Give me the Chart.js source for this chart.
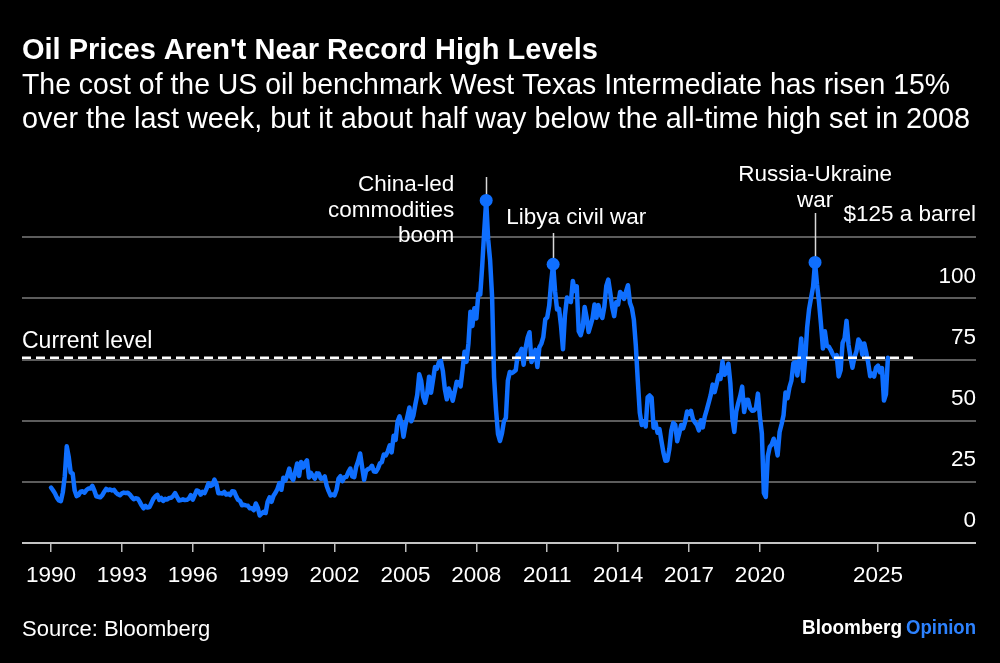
<!DOCTYPE html>
<html>
<head>
<meta charset="utf-8">
<script src="https://cdn.jsdelivr.net/npm/chart.js@4.4.1/dist/chart.umd.min.js"></script>
<style>
  html, body { margin: 0; padding: 0; background: #000; }
  .chart-wrap { position: relative; width: 1000px; height: 663px; }
</style>
</head>
<body>
<div class="chart-wrap">
  <canvas id="oilChart"></canvas>
</div>
<script>
// WTI monthly closes, USD a barrel, Jan 1990 onwards
const firstYear = 1990
const wti1990s = [
  22.68, 21.54, 20.28, 18.54, 17.40, 17.07, 20.69, 27.32, 39.51, 35.23, 28.85, 28.44,
  21.54, 19.16, 19.63, 20.96, 21.13, 20.56, 21.68, 22.26, 22.23, 23.35, 21.48, 19.12,
  18.90, 18.68, 19.44, 20.85, 22.11, 21.60, 21.87, 21.48, 21.71, 20.62, 19.89, 19.50,
  20.26, 20.60, 20.44, 20.53, 19.85, 18.75, 17.89, 18.29, 18.15, 16.92, 15.39, 14.17,
  15.19, 14.48, 14.66, 16.38, 18.08, 19.06, 19.66, 17.61, 18.39, 17.19, 18.05, 17.76,
  18.39, 18.49, 19.17, 20.38, 18.89, 17.40, 17.56, 17.84, 17.54, 17.64, 18.18, 19.55,
  17.74, 19.54, 21.47, 21.20, 19.76, 20.92, 20.42, 22.25, 24.38, 23.35, 23.75, 25.92,
  24.15, 20.30, 20.41, 20.21, 20.88, 19.80, 20.14, 19.61, 21.18, 21.08, 19.15, 17.64,
  17.21, 15.44, 15.61, 15.39, 15.20, 14.18, 14.21, 13.39, 16.14, 14.42, 11.22, 12.05,
  12.75, 12.27, 16.76, 18.66, 16.84, 19.29, 20.53, 22.10, 24.51, 21.75, 26.68, 25.60
]
const wti2000s = [
  27.64, 30.43, 26.90, 25.74, 29.01, 32.50, 27.43, 33.12, 30.84, 32.70, 33.82, 26.80,
  28.66, 27.39, 26.29, 28.46, 28.37, 26.25, 26.35, 27.20, 23.43, 21.18, 19.44, 19.84,
  19.48, 21.74, 26.31, 27.29, 25.31, 26.86, 27.02, 28.98, 30.45, 27.22, 26.89, 31.20,
  33.51, 36.60, 31.04, 25.80, 29.56, 30.19, 30.54, 31.57, 29.20, 29.11, 30.41, 32.52,
  33.05, 36.16, 35.76, 37.38, 39.88, 37.05, 43.80, 42.12, 49.64, 51.76, 49.13, 43.45,
  48.20, 51.75, 55.40, 49.72, 51.97, 56.50, 60.57, 68.94, 66.24, 59.76, 57.32, 61.04,
  67.92, 61.41, 66.63, 71.88, 71.29, 73.93, 74.40, 70.26, 62.91, 58.73, 63.13, 61.05,
  58.14, 61.79, 65.87, 65.71, 64.01, 70.68, 78.21, 74.04, 81.66, 94.53, 88.71, 95.98,
  91.75, 101.84, 101.58, 113.46, 127.35, 140.00, 124.08, 115.46, 100.64, 67.81, 54.43, 44.60,
  41.68, 44.76, 49.66, 51.12, 66.31, 69.89, 69.45, 69.96, 70.61, 77.00, 77.28, 79.36
]
const wti2010s = [
  72.89, 79.66, 83.76, 86.15, 73.97, 75.63, 78.95, 71.92, 79.97, 81.43, 84.11, 91.38,
  92.19, 96.97, 106.72, 113.93, 102.70, 95.42, 95.70, 88.81, 79.20, 93.19, 100.36, 98.83,
  98.48, 107.07, 103.02, 104.87, 86.53, 84.96, 88.06, 96.47, 92.19, 86.24, 88.91, 91.82,
  97.49, 92.05, 97.23, 93.46, 91.97, 96.56, 105.03, 107.65, 102.33, 96.38, 92.72, 98.42,
  97.49, 102.59, 101.58, 99.74, 102.71, 105.37, 98.17, 95.96, 91.16, 80.54, 66.15, 53.27,
  48.24, 49.76, 47.60, 59.63, 60.30, 59.47, 47.12, 49.20, 45.09, 46.59, 41.65, 37.04,
  33.62, 33.75, 38.34, 45.92, 49.10, 48.33, 41.60, 44.70, 48.24, 46.86, 49.44, 53.72,
  52.81, 54.01, 50.60, 49.33, 48.32, 46.04, 50.17, 47.23, 51.67, 54.38, 57.40, 60.42,
  64.73, 61.64, 64.94, 68.57, 67.04, 74.15, 68.76, 69.80, 73.25, 65.31, 50.93, 45.41,
  53.79, 57.22, 60.14, 63.91, 53.50, 58.47, 58.58, 55.10, 54.07, 54.18, 55.17, 61.06
]
const wti2020s = [
  51.56, 44.76, 20.48, 18.84, 35.49, 39.27, 40.27, 42.61, 40.22, 35.79, 45.34, 48.52,
  52.20, 61.50, 59.16, 63.58, 66.32, 73.47, 73.95, 68.50, 75.03, 83.57, 66.18, 75.21,
  88.15, 95.72, 100.28, 104.69, 114.67, 105.76, 98.62, 89.55, 79.49, 86.53, 80.55, 80.26,
  78.87, 77.05, 75.67, 76.78, 68.09, 70.64, 81.80, 83.63, 90.79, 81.02, 75.96, 71.65,
  75.85, 78.26, 83.17, 81.93, 76.99, 81.54, 77.91, 73.55, 68.17, 69.26, 68.00, 71.72,
  72.53, 69.76, 71.48, 58.21, 60.79, 75.70
]
const currentLevel = 75.7

const yearTicks = [1990, 1993, 1996, 1999, 2002, 2005, 2008, 2011, 2014, 2017, 2020, 2025]
const priceTicks = [0, 25, 50, 75, 100, 125]
const priceTickLabels = ['0', '25', '50', '75', '100', '$125 a barrel']

const eventMonths = ['2008-06', '2011-04', '2022-05']
const eventLabels = [
  ['China-led', 'commodities', 'boom'],
  ['Libya civil war'],
  ['Russia-Ukraine', 'war']
]

const title = "Oil Prices Aren't Near Record High Levels"
const subtitle = [
  'The cost of the US oil benchmark West Texas Intermediate has risen 15%',
  'over the last week, but it about half way below the all-time high set in 2008'
]
const source = 'Source: Bloomberg'


const FONT = "'Liberation Sans', Arial, Helvetica, sans-serif"
const BLUE = '#0f6fff'
const X_MIN = 1988.773
const X_MAX = 2029.145
const DASH_END = 2026.6

const prices = [...wti1990s, ...wti2000s, ...wti2010s, ...wti2020s]
const pricePoints = prices.map((p, i) => ({ x: firstYear + i / 12, y: p }))
const eventIndex = eventMonths.map(m => {
  const [yr, mo] = m.split('-').map(Number)
  return (yr - firstYear) * 12 + (mo - 1)
})

function txt(ctx, s, x, y, font, align, color, maxW) {
  ctx.font = font
  ctx.textAlign = align || 'left'
  ctx.fillStyle = color || '#fff'
  if (maxW) ctx.fillText(s, x, y, maxW)
  else ctx.fillText(s, x, y)
}

const overlay = {
  id: 'overlay',
  beforeDatasetsDraw(chart) {
    const { ctx, scales: { x, y } } = chart
    const tops = [177, 233, 213]
    ctx.save()
    ctx.strokeStyle = '#d8d8d8'
    ctx.lineWidth = 1.5
    eventIndex.forEach((idx, k) => {
      const p = pricePoints[idx]
      const px = Math.round(x.getPixelForValue(p.x)) + 0.5
      ctx.beginPath()
      ctx.moveTo(px, tops[k])
      ctx.lineTo(px, y.getPixelForValue(p.y))
      ctx.stroke()
    })
    ctx.restore()
  },
  afterDraw(chart) {
    const { ctx, chartArea: area, scales: { x, y } } = chart
    ctx.save()
    ctx.textBaseline = 'alphabetic'

    txt(ctx, title, 22, 59, 'bold 29px ' + FONT, 'left', '#fff', 582)
    txt(ctx, subtitle[0], 22, 94, '29px ' + FONT, 'left', '#fff', 928)
    txt(ctx, subtitle[1], 22, 128, '29px ' + FONT, 'left', '#fff', 948)

    // y labels sit above their gridlines
    ctx.textBaseline = 'middle'
    priceTicks.forEach((v, i) => {
      txt(ctx, priceTickLabels[i], area.right, y.getPixelForValue(v) - 22, '22.5px ' + FONT, 'right')
    })

    txt(ctx, 'Current level', 22, y.getPixelForValue(currentLevel) - 16, '23px ' + FONT, 'left')

    // event notes
    const lh = 25.5
    eventIndex.forEach((idx, k) => {
      const px = x.getPixelForValue(pricePoints[idx].x)
      const lines = eventLabels[k]
      lines.forEach((s, j) => {
        if (k === 0) txt(ctx, s, px - 32, 185 + j * lh, '22.5px ' + FONT, 'right')
        else if (k === 1) txt(ctx, s, px - 47, 218 + j * lh, '22.5px ' + FONT, 'left')
        else txt(ctx, s, px, 175 + j * lh, '22.5px ' + FONT, 'center')
      })
    })

    txt(ctx, source, 22, 630, '22px ' + FONT, 'left')
    txt(ctx, 'Opinion', 976, 628, 'bold 21px ' + FONT, 'right', '#2d82ff', 70)
    txt(ctx, 'Bloomberg', 902, 628, 'bold 21px ' + FONT, 'right', '#fff', 100)
    ctx.restore()
  }
}

const ctx = document.getElementById('oilChart').getContext('2d')

new Chart(ctx, {
  type: 'line',
  data: {
    datasets: [
      {
        data: [{ x: X_MIN, y: currentLevel }, { x: DASH_END, y: currentLevel }],
        borderColor: '#ffffff',
        borderWidth: 2.5,
        borderDash: [9, 5],
        pointRadius: 0,
        order: 0
      },
      {
        data: pricePoints,
        borderColor: BLUE,
        backgroundColor: BLUE,
        borderWidth: 4.5,
        borderJoinStyle: 'round',
        borderCapStyle: 'round',
        tension: 0,
        clip: false,
        pointRadius: c => eventIndex.includes(c.dataIndex) ? 6.5 : 0,
        pointBackgroundColor: BLUE,
        pointBorderWidth: 0,
        order: 1
      }
    ]
  },
  options: {
    responsive: true,
    maintainAspectRatio: false,
    animation: false,
    events: [],
    layout: { padding: { left: 22, right: 24, top: 176, bottom: 0 } },
    plugins: {
      legend: { display: false },
      tooltip: { enabled: false }
    },
    scales: {
      x: {
        type: 'linear',
        min: X_MIN,
        max: X_MAX,
        afterBuildTicks: s => { s.ticks = yearTicks.map(v => ({ value: v })) },
        afterFit: s => { s.height = 120 },
        border: { display: false },
        grid: {
          drawOnChartArea: false,
          drawTicks: true,
          tickLength: 9,
          color: '#bdbdbd',
          lineWidth: 1.5
        },
        ticks: {
          autoSkip: false,
          maxRotation: 0,
          padding: 10,
          color: '#ffffff',
          font: { family: FONT, size: 22.5 },
          callback: v => String(v)
        }
      },
      y: {
        position: 'right',
        min: 0,
        max: 150,
        afterBuildTicks: s => { s.ticks = priceTicks.map(v => ({ value: v })) },
        afterFit: s => { s.width = 0 },
        border: { display: false },
        grid: {
          drawTicks: false,
          lineWidth: 2,
          color: c => c.tick && c.tick.value === 0 ? '#c4c4c4' : '#5c5c5c'
        },
        ticks: { display: false }
      }
    }
  },
  plugins: [overlay]
})
</script>
</body>
</html>
